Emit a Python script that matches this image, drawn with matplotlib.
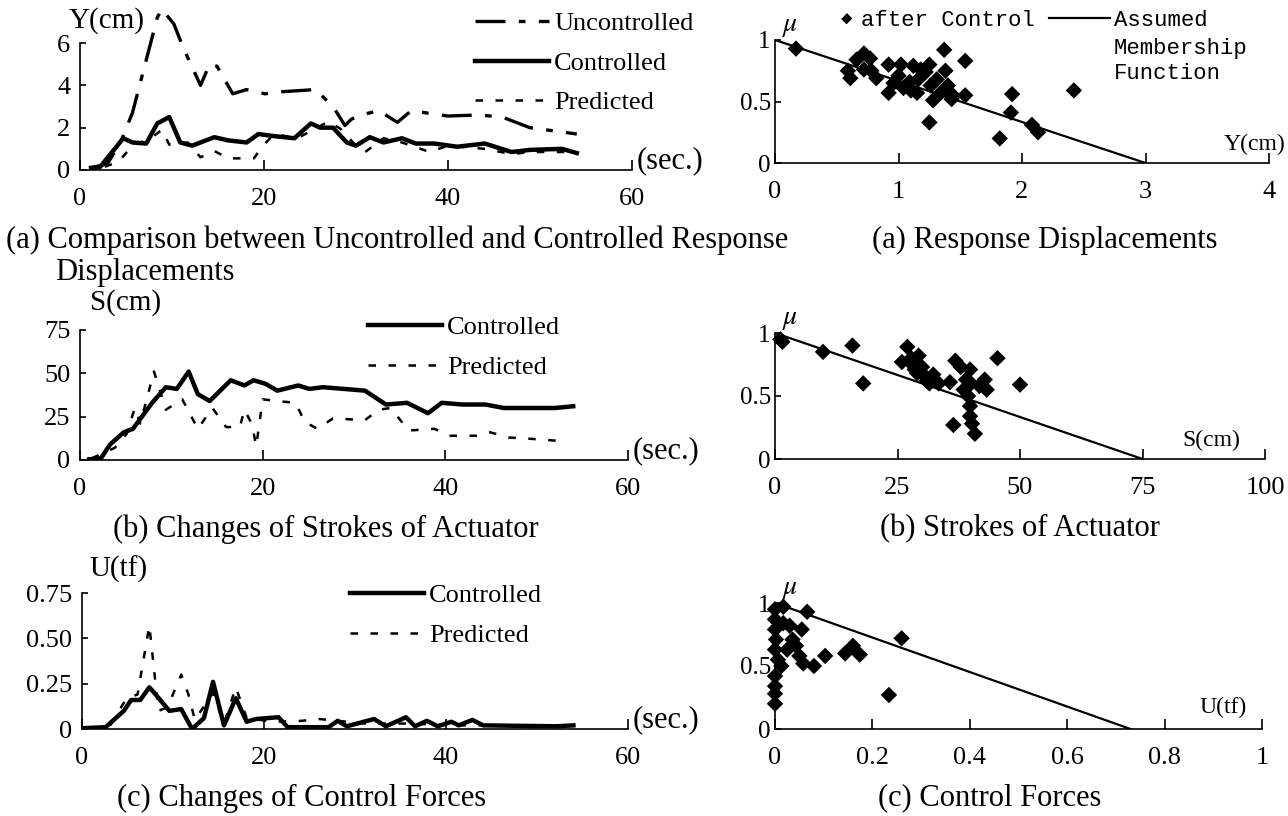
import matplotlib.pyplot as plt
from matplotlib.lines import Line2D

W, H = 1288, 816

# (a) response displacement Y(cm) against time (sec.)
t_unc = [1.2, 3.0, 4.5, 5.7, 7.2, 8.4, 8.9, 10.2, 11.2, 13.1, 14.1, 14.9, 16.6, 18.1, 20.1, 22.0,
         25.6, 27.5, 28.8, 29.5, 30.5, 32.5, 34.5, 36.0, 40.0, 43.4, 45.9, 48.9, 54.0]
y_unc = [0.1, 0.3, 1.4, 2.7, 5.2, 7.2, 7.6, 6.9, 5.8, 4.0, 5.0, 4.9, 3.6, 3.8, 3.6, 3.7,
         3.8, 3.0, 2.1, 2.4, 2.6, 2.8, 2.25, 2.8, 2.55, 2.6, 2.5, 2.0, 1.7]
t_ctl_a = [1.2, 2.2, 4.7, 5.7, 7.2, 8.4, 9.7, 10.9, 12.2, 14.6, 16.1, 18.1, 19.4, 21.1, 23.3, 25.1,
           26.1, 27.5, 29.0, 30.0, 31.5, 33.0, 35.0, 36.5, 38.5, 41.0, 44.0, 46.9, 48.9, 52.4, 54.0]
y_ctl_a = [0.1, 0.15, 1.5, 1.3, 1.25, 2.2, 2.5, 1.3, 1.15, 1.55, 1.4, 1.3, 1.7, 1.6, 1.5, 2.2,
           2.0, 2.0, 1.3, 1.15, 1.55, 1.3, 1.5, 1.25, 1.25, 1.1, 1.25, 0.85, 0.95, 1.0, 0.8]
t_pre_a = [2.7, 4.2, 5.7, 7.7, 8.9, 9.7, 11.7, 13.1, 14.6, 16.1, 18.9, 19.9, 21.1, 23.6, 25.6, 27.0,
           28.3, 30.0, 31.0, 33.0, 35.0, 38.0, 40.0, 44.0, 46.9, 48.9, 52.8]
y_pre_a = [0.15, 0.4, 1.15, 1.5, 1.9, 1.2, 1.3, 0.6, 0.9, 0.55, 0.55, 1.15, 1.7, 1.5, 1.95, 2.3,
           1.95, 1.15, 0.85, 1.5, 1.3, 0.85, 1.15, 1.0, 0.75, 0.85, 0.85]

# (b) strokes of actuator S(cm)
t_ctl_b = [1.0, 2.3, 3.3, 4.8, 5.8, 7.9, 9.4, 10.6, 11.9, 12.9, 14.2, 16.5, 18.0, 19.0, 20.3, 21.6,
           23.9, 25.1, 26.6, 31.2, 33.5, 35.8, 38.1, 39.6, 41.9, 44.4, 46.4, 52.0, 54.0]
s_ctl_b = [0.4, 1, 9, 16, 18, 33, 42, 41, 51, 38, 34, 46, 43, 46, 44, 40,
           43, 41, 42, 40, 32, 33, 27, 33, 32, 32, 30, 30, 31]
t_pre_b = [1.3, 3.8, 5.1, 6.0, 6.6, 8.1, 9.4, 11.2, 12.9, 14.5, 16.0, 17.5, 18.0, 18.8, 19.3, 20.0,
           21.6, 23.6, 24.6, 26.0, 27.7, 31.2, 32.7, 34.0, 36.0, 38.8, 40.4, 43.4, 44.9, 46.9, 50.0, 52.5]
s_pre_b = [1, 7, 15, 30, 21, 51, 29, 35, 18, 30, 19, 19, 29, 21, 8, 35,
           34, 33, 22, 18, 24, 23, 29, 30, 17, 18, 14, 14, 16, 13, 12, 11]

# (c) control forces U(tf)
t_ctl_c = [0.3, 2.6, 4.6, 5.4, 6.4, 7.4, 8.1, 9.6, 10.9, 12.1, 13.4, 14.4, 15.6, 16.9, 18.1, 19.1,
           21.6, 22.6, 27.1, 28.1, 29.1, 32.1, 33.4, 35.6, 36.6, 37.9, 39.1, 40.6, 41.4, 42.9, 44.1, 52.1, 54.0]
u_ctl_c = [0.005, 0.01, 0.1, 0.16, 0.16, 0.23, 0.19, 0.1, 0.11, 0.0, 0.06, 0.26, 0.02, 0.17, 0.04, 0.055,
           0.065, 0.01, 0.01, 0.045, 0.015, 0.055, 0.015, 0.065, 0.015, 0.045, 0.015, 0.04, 0.02, 0.05, 0.02, 0.015, 0.02]
t_pre_c = [3.1, 4.9, 6.1, 7.4, 8.4, 9.4, 10.9, 11.7, 12.4, 14.4, 15.6, 16.9, 18.1, 21.1, 24.1, 26.1,
           31.1, 36.1, 41.1, 51.1]
u_pre_c = [0.02, 0.17, 0.19, 0.57, 0.1, 0.12, 0.3, 0.19, 0.05, 0.2, 0.03, 0.23, 0.06, 0.04, 0.045, 0.055,
           0.03, 0.03, 0.02, 0.02]

# membership scatter, after control
ya_x = [0.17, 0.59, 0.61, 0.66, 0.72, 0.77, 0.72, 0.78, 0.82, 0.92, 0.92, 0.96, 1.0, 1.02, 1.04, 1.09,
        1.12, 1.1, 1.15, 1.16, 1.18, 1.22, 1.25, 1.26, 1.28, 1.25, 1.31, 1.37, 1.38, 1.4, 1.44, 1.43,
        1.34, 1.54, 1.54, 1.82, 1.91, 1.92, 2.08, 2.13, 2.42]
ya_mu = [0.93, 0.75, 0.69, 0.84, 0.89, 0.85, 0.76, 0.75, 0.69, 0.8, 0.57, 0.65, 0.71, 0.8, 0.61, 0.66,
         0.79, 0.59, 0.57, 0.68, 0.76, 0.74, 0.8, 0.63, 0.51, 0.33, 0.68, 0.92, 0.75, 0.63, 0.55, 0.52,
         0.57, 0.83, 0.55, 0.2, 0.41, 0.56, 0.31, 0.25, 0.59]
sb_x = [1.1, 1.5, 9.8, 15.8, 18.0, 25.9, 27.0, 27.8, 28.5, 29.3, 30.0, 30.8, 31.5, 32.3, 33.4, 35.7,
        36.4, 36.8, 37.9, 39.0, 39.8, 39.4, 39.8, 39.8, 40.2, 40.8, 41.7, 42.8, 43.2, 45.4, 50.0,
        28.0, 29.0, 31.0, 38.5, 40.0]
sb_mu = [0.95, 0.93, 0.85, 0.9, 0.6, 0.77, 0.89, 0.8, 0.71, 0.82, 0.73, 0.65, 0.6, 0.67, 0.6, 0.61,
         0.27, 0.78, 0.73, 0.63, 0.71, 0.5, 0.42, 0.34, 0.28, 0.2, 0.58, 0.63, 0.55, 0.8, 0.59,
         0.75, 0.68, 0.62, 0.55, 0.6]
uc_x = [0, 0, 0, 0.002, 0, 0.006, 0, 0, 0, 0, 0.017, 0.025, 0.036, 0.05, 0.055, 0.066,
        0.058, 0.08, 0.103, 0.144, 0.16, 0.174, 0.234, 0.26, 0.017, 0.03, 0.013, 0.043]
uc_mu = [0.95, 0.87, 0.79, 0.71, 0.63, 0.55, 0.42, 0.34, 0.28, 0.2, 0.84, 0.63, 0.71, 0.58, 0.79, 0.93,
         0.52, 0.5, 0.58, 0.6, 0.66, 0.59, 0.27, 0.72, 0.97, 0.82, 0.5, 0.66]

# assumed membership functions (mu = 1 at 0, mu = 0 at the limit)
mf_mu = [1, 0]
mf_y = [0, 3]
mf_s = [0, 75]
mf_u = [0, 0.73]

plt.rcParams['font.family'] = ['Liberation Serif', 'DejaVu Serif']
plt.rcParams['mathtext.fontset'] = 'stix'
MONO = ['Liberation Mono', 'DejaVu Sans Mono']
TFS = 19    # tick labels
LFS = 19    # legends
CFS = 22    # captions

fig = plt.figure(figsize=(W / 100, H / 100), dpi=100)


def box(x0, x1, ybot, ytop):
    return [x0 / W, 1 - ybot / H, (x1 - x0) / W, (ybot - ytop) / H]


def fx(x, y):
    return x / W, 1 - y / H


def base(ax):
    for s in ['top', 'right']:
        ax.spines[s].set_visible(False)
    for s in ['left', 'bottom']:
        ax.spines[s].set_linewidth(1.2)
    ax.tick_params(axis='x', direction='in', length=7, width=1.2, labelsize=TFS, pad=13)
    ax.tick_params(axis='y', direction='in', length=4, width=1.2, labelsize=TFS, pad=7)


def time_axes(rect, ymax, yticks, ylabels, name, name_off):
    ax = fig.add_axes(rect)
    base(ax)
    ax.set_xlim(0, 60)
    ax.set_ylim(0, ymax)
    ax.set_xticks([0, 20, 40, 60], ['0', '20', '40', '60'])
    ax.set_yticks(yticks, ylabels)
    ax.annotate('(sec.)', xy=(1, 0), xycoords='axes fraction', xytext=(3, 7),
                textcoords='offset points', ha='left', va='center', fontsize=CFS)
    ax.annotate(name, xy=(0, 1), xycoords='axes fraction', xytext=name_off,
                textcoords='offset points', ha='left', va='center', fontsize=21)
    return ax


def member_axes(rect, xmax, xticks, xlabels, name, nx, ny):
    ax = fig.add_axes(rect)
    base(ax)
    ax.tick_params(axis='y', pad=3, labelsize=18)
    ax.set_xlim(0, xmax)
    ax.set_ylim(0, 1)
    ax.set_xticks(xticks, xlabels)
    ax.set_yticks([0, 0.5, 1], ['0', '0.5', '1'])
    ax.text(nx, ny, name, transform=ax.transAxes, ha='center', va='center', fontsize=17)
    ax.annotate(r'$\mu$', xy=(0, 1), xycoords='axes fraction', xytext=(5, 10),
                textcoords='offset points', ha='left', va='center', fontsize=20)
    return ax


dashdot = (0, (9, 4, 2, 4))
pred = (0, (3, 5))
leg_kw = dict(frameon=False, fontsize=LFS, handlelength=2.8, handletextpad=0.2,
              labelspacing=0.6, borderpad=0, borderaxespad=0, loc='upper left',
              bbox_transform=fig.transFigure)

# ---- left column: time histories ----
ax1 = time_axes(box(80, 632, 170, 43), 6, [0, 2, 4, 6], ['0', '2', '4', '6'], 'Y(cm)', (-8, 16))
ax1.plot(t_unc, y_unc, color='black', lw=2.4, ls=dashdot, clip_on=False, label='Uncontrolled')
ax1.plot(t_ctl_a, y_ctl_a, color='black', lw=3.2, label='Controlled')
ax1.plot(t_pre_a, y_pre_a, color='black', lw=1.8, ls=pred, label='Predicted')
ax1.legend(bbox_to_anchor=fx(475, 12), **leg_kw)

ax2 = time_axes(box(80, 628, 460, 330), 75, [0, 25, 50, 75], ['0', '25', '50', '75'], 'S(cm)', (7, 20))
ax2.plot(t_ctl_b, s_ctl_b, color='black', lw=3.2, label='Controlled')
ax2.plot(t_pre_b, s_pre_b, color='black', lw=1.8, ls=pred, label='Predicted')
ax2.legend(bbox_to_anchor=fx(368, 316), **leg_kw)

ax3 = time_axes(box(82, 628, 729, 593), 0.75, [0, 0.25, 0.5, 0.75],
                ['0', '0.25', '0.50', '0.75'], 'U(tf)', (5, 17))
ax3.plot(t_ctl_c, u_ctl_c, color='black', lw=3.2, label='Controlled')
ax3.plot(t_pre_c, u_pre_c, color='black', lw=1.8, ls=pred, label='Predicted')
ax3.legend(bbox_to_anchor=fx(350, 584), **leg_kw)

# ---- right column: membership ----
diamond = [(0, 1), (1, 0), (0, -1), (-1, 0)]
mk = dict(marker=diamond, s=140, color='black', edgecolors='none', clip_on=False, zorder=3)
ax4 = member_axes(box(775, 1269, 163, 40), 4, [0, 1, 2, 3, 4], ['0', '1', '2', '3', '4'], 'Y(cm)', 0.97, 0.15)
ax4.plot(mf_y, mf_mu, color='black', lw=1.6)
ax4.scatter(ya_x, ya_mu, **mk)

mono = dict(family=MONO, size=16)
fig.legend(handles=[Line2D([], [], marker=diamond, ls='none', color='black', ms=7)],
           labels=['after Control'], frameon=False, prop=mono, handlelength=0.8,
           handletextpad=0.27, borderpad=0, borderaxespad=0, loc='upper left',
           bbox_to_anchor=fx(837, 10), bbox_transform=fig.transFigure)
fig.legend(handles=[Line2D([], [], color='black', lw=1.6)], labels=['Assumed'],
           frameon=False, prop=mono, handlelength=2.75, handletextpad=0.18, borderpad=0,
           borderaxespad=0, loc='upper left', bbox_to_anchor=fx(1049, 10),
           bbox_transform=fig.transFigure)
fig.text(*fx(1114, 61), 'Membership\nFunction', family=MONO, fontsize=16, ha='left', va='center',
         linespacing=1.2)

ax5 = member_axes(box(775, 1265, 459, 333), 100, [0, 25, 50, 75, 100],
                  ['0', '25', '50', '75', '100'], 'S(cm)', 0.89, 0.15)
ax5.plot(mf_s, mf_mu, color='black', lw=1.6)
ax5.scatter(sb_x, sb_mu, **mk)

ax6 = member_axes(box(775, 1262, 729, 603), 1, [0, 0.2, 0.4, 0.6, 0.8, 1],
                  ['0', '0.2', '0.4', '0.6', '0.8', '1'], 'U(tf)', 0.92, 0.17)
ax6.plot(mf_u, mf_mu, color='black', lw=1.6)
ax6.scatter(uc_x, uc_mu, **mk)

# ---- captions ----
cap = dict(fontsize=CFS, va='center')
fig.text(*fx(6, 240), '(a) Comparison between Uncontrolled and Controlled Response', ha='left', **cap)
fig.text(*fx(55, 273), 'Displacements', ha='left', **cap)
fig.text(*fx(1045, 240), '(a) Response Displacements', ha='center', **cap)
fig.text(*fx(326, 529), '(b) Changes of Strokes of Actuator', ha='center', **cap)
fig.text(*fx(1020, 529), '(b) Strokes of Actuator', ha='center', **cap)
fig.text(*fx(302, 798), '(c) Changes of Control Forces', ha='center', **cap)
fig.text(*fx(990, 798), '(c) Control Forces', ha='center', **cap)

fig.savefig('out.png', dpi=100)
